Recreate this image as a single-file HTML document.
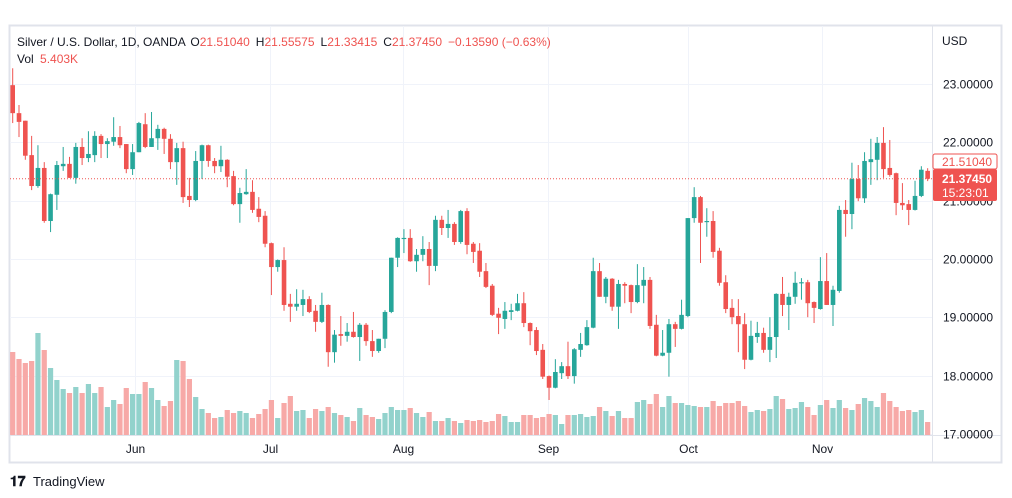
<!DOCTYPE html>
<html><head><meta charset="utf-8"><style>
html,body{margin:0;padding:0;background:#fff;}
svg{display:block;font-family:"Liberation Sans",Arial,sans-serif;}
</style></head><body>
<svg id="chart" width="1012" height="498" viewBox="0 0 1012 498">
<rect x="0" y="0" width="1012" height="498" fill="#fff"/>
<rect x="9.5" y="25.5" width="992" height="437" fill="none" stroke="#e0e3eb" stroke-width="2"/>
<g id="grid"></g>
<g id="vols"></g>
<g id="candles"></g>
<line x1="932.5" y1="26" x2="932.5" y2="462" stroke="#e0e3eb" stroke-width="1"/>
<line x1="10" y1="435.5" x2="1001" y2="435.5" stroke="#e0e3eb" stroke-width="1"/>
<g id="yaxis"></g>
<g id="xaxis"></g>
<text x="942" y="45" font-size="12" fill="#131722">USD</text>
<text x="17" y="46" font-size="12" fill="#131722">Silver / U.S. Dollar, 1D, OANDA <tspan dx="2">O</tspan><tspan fill="#ef5350">21.51040</tspan><tspan dx="6">H</tspan><tspan fill="#ef5350">21.55575</tspan><tspan dx="6">L</tspan><tspan fill="#ef5350">21.33415</tspan><tspan dx="6">C</tspan><tspan fill="#ef5350">21.37450</tspan><tspan dx="6" fill="#ef5350">−0.13590 (−0.63%)</tspan></text>
<text x="17" y="63" font-size="12" fill="#131722">Vol <tspan dx="3" fill="#ef5350">5.403K</tspan></text>
<g>
<text x="10" y="486" font-size="14" font-weight="bold" fill="#131722">𝟏𝟕</text>
<text x="33" y="486" font-size="13" fill="#131722">TradingView</text>
</g>
</svg>
<script>
const opens=[22.98,22.50,22.37,21.78,21.25,21.56,20.65,21.10,21.59,21.63,21.39,21.92,21.73,21.78,22.11,21.97,22.01,22.09,21.97,21.54,21.83,22.31,21.92,22.07,22.23,22.06,21.66,21.90,21.08,21.01,21.68,21.95,21.68,21.59,21.70,21.42,20.94,21.11,21.15,20.86,20.74,20.27,19.86,19.98,19.23,19.18,19.21,19.31,19.11,18.92,19.21,18.40,18.71,18.68,18.75,18.66,18.87,18.59,18.42,18.63,19.09,20.02,20.34,20.36,19.96,20.07,20.17,19.88,20.67,20.53,20.60,20.29,20.82,20.26,20.14,19.79,19.54,19.06,18.97,19.09,19.11,19.24,18.90,18.78,18.44,17.99,17.79,18.04,18.16,17.99,18.44,18.52,18.82,19.79,19.35,19.66,19.18,19.57,19.55,19.26,19.54,19.64,18.87,18.34,18.39,18.88,18.80,19.02,20.70,21.06,20.63,20.65,20.14,19.60,19.16,19.02,18.88,18.27,18.66,18.73,18.44,18.66,19.40,19.21,19.35,19.58,19.60,19.26,19.14,19.62,19.21,19.45,20.84,20.77,21.37,21.04,21.66,21.70,21.99,21.56,21.47,20.96,20.94,20.84,21.08,21.5104];
const highs=[23.27,22.64,22.37,22.11,21.95,21.66,21.12,21.68,21.92,21.75,21.99,22.07,22.19,22.19,22.14,22.07,22.43,22.28,21.97,21.97,22.35,22.50,22.52,22.30,22.25,22.14,21.99,22.01,21.39,21.85,21.96,21.96,21.73,21.94,21.71,21.51,21.22,21.54,21.35,21.06,20.82,20.28,19.99,20.20,19.40,19.48,19.47,19.36,19.21,19.42,19.22,18.78,19.02,18.90,19.09,18.90,18.90,18.78,18.63,19.12,20.02,20.37,20.51,20.51,20.17,20.39,20.29,20.74,20.74,20.84,20.63,20.84,20.87,20.29,20.27,19.93,19.57,19.16,19.26,19.23,19.40,19.43,18.91,18.83,18.54,18.00,18.28,18.23,18.58,18.47,18.73,18.95,20.02,19.93,19.69,19.67,19.64,19.60,19.56,19.91,19.86,19.69,19.04,18.78,18.97,18.92,19.30,20.70,21.23,21.08,20.87,20.82,20.19,19.72,19.31,19.31,19.07,18.94,18.92,18.82,19.00,19.41,19.69,19.42,19.78,19.67,19.64,19.27,20.03,20.10,19.54,20.91,21.01,21.65,21.61,21.83,22.06,22.09,22.26,22.04,21.48,21.30,21.01,21.34,21.59,21.55575];
const lows=[22.33,22.09,21.70,21.18,21.22,20.62,20.46,20.84,21.51,21.39,21.29,21.61,21.66,21.66,21.73,21.73,21.94,21.90,21.47,21.44,21.83,21.90,21.92,21.87,21.80,21.54,21.27,20.96,20.89,20.99,21.37,21.58,21.47,21.49,21.23,20.92,20.62,21.10,20.79,20.63,20.20,19.38,19.78,19.11,18.92,19.11,19.02,19.07,18.75,18.90,18.15,18.22,18.51,18.58,18.65,18.25,18.51,18.32,18.39,18.47,19.07,19.86,20.10,19.95,19.78,19.96,19.55,19.79,20.41,20.36,20.24,20.26,20.08,19.93,19.69,19.50,19.02,18.71,18.80,18.95,19.10,18.83,18.52,18.35,17.94,17.58,17.78,17.94,17.94,17.86,18.32,18.51,18.81,19.35,19.24,19.11,18.80,19.24,19.07,19.24,19.24,18.80,18.33,18.33,17.98,18.49,18.79,19.00,20.62,19.93,20.38,20.02,19.54,19.07,18.88,18.40,18.11,18.26,18.56,18.39,18.23,18.30,19.02,18.78,19.23,19.30,19.00,18.90,19.13,19.21,18.85,19.42,20.38,20.51,20.99,20.96,21.27,21.35,21.39,21.41,20.75,20.84,20.58,20.83,21.06,21.33415];
const closes=[22.50,22.35,21.77,21.25,21.56,20.65,21.11,21.61,21.63,21.39,21.92,21.73,21.80,22.11,21.97,22.02,22.09,21.95,21.54,21.83,22.33,21.92,22.07,22.23,22.06,21.66,21.90,21.06,21.01,21.68,21.95,21.68,21.59,21.70,21.41,20.94,21.13,21.15,20.84,20.72,20.26,19.86,19.98,19.21,19.18,19.23,19.31,19.09,18.92,19.21,18.40,18.70,18.68,18.75,18.66,18.87,18.59,18.42,18.63,19.09,20.02,20.36,20.36,19.96,20.07,20.17,19.88,20.67,20.53,20.60,20.29,20.82,20.24,20.12,19.78,19.52,19.04,18.99,19.11,19.12,19.24,18.90,18.76,18.42,17.98,17.79,18.06,18.16,17.99,18.45,18.54,18.83,19.79,19.35,19.66,19.18,19.57,19.54,19.26,19.55,19.64,18.85,18.34,18.39,18.88,18.80,19.04,20.70,21.06,20.62,20.65,20.12,19.59,19.14,19.00,18.88,18.27,18.68,18.73,18.44,18.66,19.40,19.21,19.35,19.59,19.60,19.24,19.16,19.62,19.21,19.47,20.84,20.77,21.37,21.04,21.68,21.71,21.99,21.54,21.44,20.96,20.92,20.84,21.08,21.53,21.3745];
const volumes=[83,76,72,74,102,85,67,55,46,42,48,42,51,42,48,28,35,31,47,41,41,53,47,35,29,34,75,74,56,38,26,22,17,18,25,22,24,22,17,21,26,35,17,32,39,24,25,17,26,24,28,22,20,18,14,27,20,18,16,22,28,25,25,27,22,18,23,14,14,17,14,12,15,14,15,13,14,21,19,13,13,20,20,17,18,21,20,11,20,20,21,18,19,28,24,19,24,17,17,33,35,31,41,28,39,32,32,30,29,28,28,34,29,32,32,34,29,23,25,24,26,39,36,26,27,33,28,20,30,35,27,35,27,25,31,37,34,28,42,34,28,24,25,23,25,13];
const priceTicks=[23,22,21,20,19,18,17];
const monthLabels=["Jun","Jul","Aug","Sep","Oct","Nov"];
const monthIndex=[19.4,40.8,61.9,84.8,107,128.3];
const prevClose=21.5104, lastClose=21.3745;

const NS="http://www.w3.org/2000/svg";
function xS(i){return 12.7+6.31*i;}
function yS(p){return 84+(23-p)*58.3;}
function vS(v){return 435-v*1.0;}
function mk(tag,attrs,parent){const e=document.createElementNS(NS,tag);for(const k in attrs)e.setAttribute(k,attrs[k]);parent.appendChild(e);return e;}
const G=document.getElementById('grid'),V=document.getElementById('vols'),C=document.getElementById('candles'),YA=document.getElementById('yaxis'),XA=document.getElementById('xaxis'),S=document.getElementById('chart');

priceTicks.forEach(p=>{
  const y=Math.round(yS(p))+0.5;
  const l=mk('line',{x1:10,x2:932,y1:y,y2:y,stroke:'#f0f3fa','stroke-width':1},G);
  
  
  const t=mk('text',{x:943,y:y+4,'font-size':12,fill:'#131722'},YA);
  t.textContent=p.toFixed(5);
  
  
});
monthLabels.forEach((m,k)=>{
  const x=Math.round(xS(monthIndex[k]))+0.5;
  const l=mk('line',{x1:x,x2:x,y1:26,y2:435,stroke:'#f0f3fa','stroke-width':1},G);
  
  
  const t=mk('text',{x:x,y:453,'font-size':12,fill:'#131722','text-anchor':'middle'},XA);
  t.textContent=m;
  
  
});
volumes.forEach((v,i)=>{
  const up=closes[i]>=opens[i];
  const x=xS(i);
  const r=mk('rect',{x:x-2.6,y:vS(v),width:5.2,height:435-vS(v),fill:up?'#92d2cc':'#f7a9a7'},V);
  
  
});
opens.forEach((o,i)=>{
  const c=closes[i],up=c>=o,col=up?'#26a69a':'#ef5350',x=xS(i);
  const g=mk('g',{},C);
  
  
  mk('line',{x1:x,x2:x,y1:yS(highs[i]),y2:yS(lows[i]),stroke:col,'stroke-width':1},g);
  const top=yS(Math.max(o,c)),bot=yS(Math.min(o,c));
  mk('rect',{x:x-2.3,y:top,width:4.6,height:Math.max(1,bot-top),fill:col},g);
});
// last price line
const ly=yS(lastClose);
const pl=mk('line',{x1:10,x2:932,y1:ly,y2:ly,stroke:'#ef5350','stroke-width':1,'stroke-dasharray':'1 2'},S);


const ob=mk('rect',{x:933,y:154,width:64,height:15,fill:'#fff',stroke:'#ef5350','stroke-width':1,rx:2},S);


const ot=mk('text',{x:942,y:166,'font-size':12,fill:'#ef5350'},S);
ot.textContent=prevClose.toFixed(5);


const lb=mk('rect',{x:933,y:169,width:64,height:32,fill:'#ef5350',rx:2},S);


const lt=mk('text',{x:942,y:183,'font-size':12,'font-weight':'bold',fill:'#fff'},S);
lt.textContent=lastClose.toFixed(5);


const ct=mk('text',{x:942,y:197,'font-size':12,fill:'#fff'},S);
ct.textContent='15:23:01';


</script>
</body></html>
